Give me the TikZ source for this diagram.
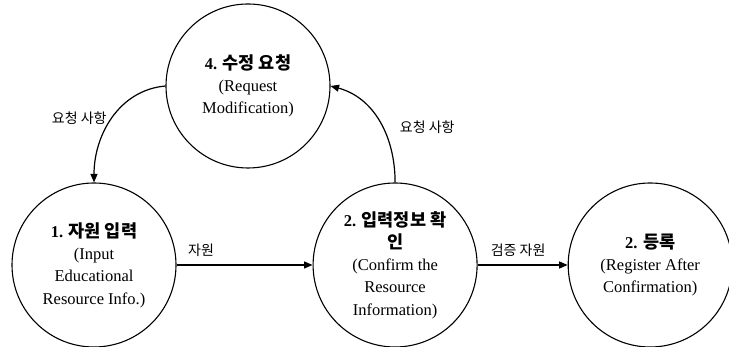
\documentclass[tikz,border=0pt]{standalone}
\usepackage{fontspec}
\setmainfont{Liberation Serif}
\newfontfamily\kr{Noto Sans CJK KR}
\usetikzlibrary{positioning, arrows.meta}

\newcommand{\ttl}[2]{\textbf{#1} {\kr\bfseries\fontsize{17.5}{22.3}\selectfont #2}}

\begin{document}
\begin{tikzpicture}[
  x=1pt, y=1pt,
  node distance=136pt,
  proc/.style={
    circle,
    draw,
    line width=1.1pt,
    minimum size=164pt,
    inner sep=0pt,
    align=center,
    font=\fontsize{16.5}{22.3}\selectfont
  },
  flow/.style={
    -{Triangle[length=8.5pt, width=7pt]},
    line width=1.2pt
  },
  lbl/.style={
    font=\kr\fontsize{14}{16}\selectfont,
    inner sep=2pt
  }
]
  \useasboundingbox (0,0) rectangle (729,347);

  % Define nodes
  \node[proc] (n1) at (94,82) {\ttl{1.}{자원 입력}\\ (Input\\ Educational\\ Resource Info.)};
  \node[proc, right=136pt of n1] (n2) {\ttl{2.}{입력정보 확}\\ {\kr\bfseries\fontsize{17.5}{22.3}\selectfont 인}\\ (Confirm the\\ Resource\\ Information)};
  \node[proc, right=90pt of n2] (n3) {\ttl{2.}{등록}\\ (Register After\\ Confirmation)};
  \node[proc] (n4) at (248,261) {\ttl{4.}{수정 요청}\\ (Request\\ Modification)};

  % Connect nodes with arrows
  \draw[flow] (n1.east) -- node[lbl, pos=0.18, above=6pt] {자원} (n2.west);
  \draw[flow] (n2.east) -- node[lbl, pos=0.45, above=6pt] {검증 자원} (n3.west);
  \draw[flow] (n4.west) to[out=185, in=90] node[lbl, pos=0.5, left=3pt] {요청 사항} (n1.north);
  \draw[flow] (n2.north) to[out=90, in=-15] node[lbl, pos=0.45, right=15pt] {요청 사항} (n4.east);
\end{tikzpicture}
\end{document}
